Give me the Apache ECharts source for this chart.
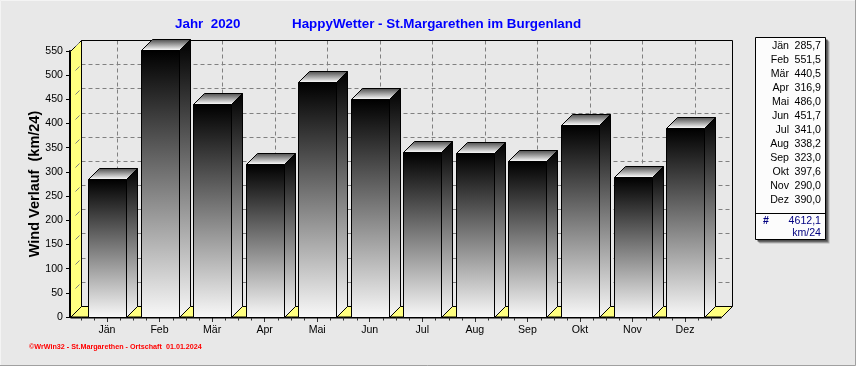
<!DOCTYPE html>
<html><head><meta charset="utf-8">
<style>html,body{margin:0;padding:0;background:#e8e8e8}#c{width:856px;height:366px}</style>
<script src="https://cdn.jsdelivr.net/npm/echarts@6/dist/echarts.min.js"></script>
</head><body><div id="c"></div>
<script>
const months = ['Jän','Feb','Mär','Apr','Mai','Jun','Jul','Aug','Sep','Okt','Nov','Dez'];
const values = [285.7,551.5,440.5,316.9,486.0,451.7,341.0,338.2,323.0,397.6,290.0,390.0];
const yTicks = [0,50,100,150,200,250,300,350,400,450,500,550];
const total = '4612,1';
const unit = 'km/24';
const titleLeft = 'Jahr  2020';
const titleRight = 'HappyWetter - St.Margarethen im Burgenland';
const yName = 'Wind Verlauf  (km/24)';
const footer = '©WrWin32 - St.Margarethen - Ortschaft  01.01.2024';

const DEPTH = 11, YELLOW = '#ffff80', FONT = '"Liberation Sans", Arial, sans-serif';
const BLACK = '#000', GRID = '#808080';
const TICK_SIZE = 10.6;
const fmt = v => v.toFixed(1).replace('.', ',');
const chart = echarts.init(document.getElementById('c'), null, {renderer:'canvas'});
const px = v => Math.round(v) + 0.5;
const poly = (points, style, z2) => ({type:'polygon', shape:{points}, style, z2: z2||0, silent:true});
const line = (x1,y1,x2,y2,style) => ({type:'line', shape:{x1,y1,x2,y2}, style:Object.assign({stroke:BLACK,lineWidth:1},style||{}), silent:true});
const dashed = {stroke:GRID, lineDash:[4,3], lineWidth:1};
const grad = (y0,y1,c0,c1) => new echarts.graphic.LinearGradient(0,y0,0,y1,[{offset:0,color:c0},{offset:1,color:c1}],true);

function renderFrame(params, api){
  const band = api.size([1,0])[0];
  const left = 70.5;
  const right = px(api.coord([months.length-1,0])[0]+band/2) + DEPTH - 1;
  const y0 = px(api.coord([0,0])[1]);
  const yTop = px(api.coord([0,yTicks[yTicks.length-1]])[1]);
  const ch = [];
  // left wall
  ch.push(poly([[left,yTop],[left+DEPTH,yTop-DEPTH],[left+DEPTH,y0-DEPTH],[left,y0]],{fill:YELLOW,stroke:BLACK,lineWidth:1}));
  // floor
  ch.push(poly([[left,y0],[left+DEPTH,y0-DEPTH],[right+DEPTH,y0-DEPTH],[right,y0]],{fill:YELLOW,stroke:BLACK,lineWidth:1}));
  // back gridlines
  yTicks.forEach(t=>{
    if(t===0) return;
    const y = px(api.coord([0,t])[1]);
    if(t!==yTicks[yTicks.length-1]) ch.push(line(left+DEPTH,y-DEPTH,right+DEPTH,y-DEPTH,dashed));
    ch.push(line(left+5,y-5,left+9,y-9,{stroke:GRID}));
  });
  months.forEach((m,i)=>{
    const x = px(api.coord([i,0])[0]) + DEPTH - 1;
    ch.push(line(x,yTop-DEPTH,x,y0-DEPTH,dashed));
  });
  // outer back frame
  ch.push(line(left+DEPTH,yTop-DEPTH,right+DEPTH,yTop-DEPTH));
  ch.push(line(right+DEPTH,yTop-DEPTH,right+DEPTH,y0-DEPTH));
  ch.push(line(left+DEPTH,yTop-DEPTH,left+DEPTH,y0-DEPTH));
  // thick front floor line and quarter ticks
  ch.push(line(left,y0,right,y0,{lineWidth:2}));
  for(let q=0;q<=months.length*4;q++){
    if(q%4===2) continue;
    const x = px(api.coord([0,0])[0]-band/2+q*band/4);
    ch.push(line(x,y0,x,y0+3,{stroke:'#333'}));
  }
  return {type:'group',children:ch};
}

function renderBar(params, api){
  const i = api.value(0), v = api.value(1);
  const band = api.size([1,0])[0];
  const w = band*0.72;
  const c = api.coord([i,0])[0];
  const x0 = px(c-w/2), x1 = x0+38;
  const yb = px(api.coord([i,0])[1]), yt = px(api.coord([i,v])[1]);
  const s = {stroke:BLACK,lineWidth:1};
  return {type:'group',children:[
    poly([[x1,yt],[x1+DEPTH,yt-DEPTH],[x1+DEPTH,yb-DEPTH],[x1,yb]],Object.assign({fill:grad(yt-DEPTH,yb,'#000','#f8f8f8')},s)),
    poly([[x0,yt],[x0+DEPTH,yt-DEPTH],[x1+DEPTH,yt-DEPTH],[x1,yt]],Object.assign({fill:grad(yt-DEPTH,yt,'#505050','#ffffff')},s)),
    poly([[x0,yt],[x1,yt],[x1,yb],[x0,yb]],Object.assign({fill:grad(yt,yb,'#000','#f8f8f8')},s))
  ]};
}

const legendX0 = 755.5, legendX1 = 825.5, legendY0 = 37.5, legendY1 = 239.5, legendSep = 213.5;
const legendW = legendX1-legendX0, legendH = legendY1-legendY0;
const legendText = [];
months.forEach((m,i)=>{
  const y = 46+i*14;
  legendText.push({type:'text',x:789,y,style:{text:m,align:'right',verticalAlign:'middle',font:TICK_SIZE+'px '+FONT,fill:'#000'}});
  legendText.push({type:'text',x:821,y,style:{text:fmt(values[i]),align:'right',verticalAlign:'middle',font:TICK_SIZE+'px '+FONT,fill:'#000'}});
});
const shadow = [[4,'#b4b4b4'],[3,'#808080'],[2,'#505050']].map(([o,c])=>(
  {type:'rect',shape:{x:legendX0+o,y:legendY0+o,width:legendW,height:legendH},style:{fill:c},silent:true}));

chart.setOption({
  animation:false,
  backgroundColor:'#e8e8e8',
  title:[
    {text:titleLeft,left:175,top:17,padding:0,textStyle:{color:'#0000ff',fontFamily:FONT,fontSize:13.4,fontWeight:'bold',lineHeight:14}},
    {text:titleRight,left:292,top:17,padding:0,textStyle:{color:'#0000ff',fontFamily:FONT,fontSize:13.4,fontWeight:'bold',lineHeight:14}}
  ],
  grid:{left:80.7,top:51,width:630.6,height:266,containLabel:false},
  xAxis:{type:'category',data:months,
    axisLine:{show:false},
    axisTick:{show:true,alignWithLabel:true,length:5,lineStyle:{color:'#333'}},
    axisLabel:{color:'#000',fontFamily:FONT,fontSize:TICK_SIZE,margin:8},
    splitLine:{show:false}},
  yAxis:{type:'value',min:0,max:550,interval:50,offset:10.7,
    axisLine:{show:true,lineStyle:{color:'#000',width:2}},
    axisTick:{show:true,length:4,lineStyle:{color:'#000'}},
    axisLabel:{color:'#000',fontFamily:FONT,fontSize:TICK_SIZE,margin:7,showMinLabel:true,showMaxLabel:true},
    splitLine:{show:false}},
  series:[
    {type:'custom',renderItem:renderFrame,data:[[0,0]],encode:{x:0,y:1},z:1,silent:true,clip:false},
    {type:'custom',renderItem:renderBar,data:values.map((v,i)=>[i,v]),encode:{x:0,y:1},z:2,silent:true,clip:false}
  ],
  graphic:[
    {type:'polyline',shape:{points:[[0.5,365],[0.5,0.5],[855,0.5]]},style:{stroke:'#f4f4f4',fill:null,lineWidth:1},silent:true},
    {type:'polyline',shape:{points:[[0,365.5],[855.5,365.5],[855.5,0]]},style:{stroke:'#a0a0a0',fill:null,lineWidth:1},silent:true},
    {type:'text',x:35,y:184,rotation:Math.PI/2,style:{text:yName,align:'center',verticalAlign:'middle',font:'bold 14.5px '+FONT,fill:'#000'},silent:true},
    {type:'text',x:29,y:347,style:{text:footer,align:'left',verticalAlign:'middle',font:'bold 7.2px "Liberation Sans"',fill:'#ff0000'},silent:true},
    ...shadow,
    {type:'rect',shape:{x:legendX0,y:legendY0,width:legendW,height:legendH},style:{fill:'#fcfcfc',stroke:'#000',lineWidth:1},silent:true},
    {type:'line',shape:{x1:legendX0,y1:legendSep,x2:legendX1,y2:legendSep},style:{stroke:'#000',lineWidth:1},silent:true},
    ...legendText,
    {type:'text',x:763,y:221,style:{text:'#',align:'left',verticalAlign:'middle',font:'bold '+TICK_SIZE+'px '+FONT,fill:'#000080'},silent:true},
    {type:'text',x:821,y:221,style:{text:total,align:'right',verticalAlign:'middle',font:TICK_SIZE+'px '+FONT,fill:'#000080'},silent:true},
    {type:'text',x:821,y:233,style:{text:unit,align:'right',verticalAlign:'middle',font:TICK_SIZE+'px '+FONT,fill:'#000080'},silent:true}
  ]
});
</script></body></html>
